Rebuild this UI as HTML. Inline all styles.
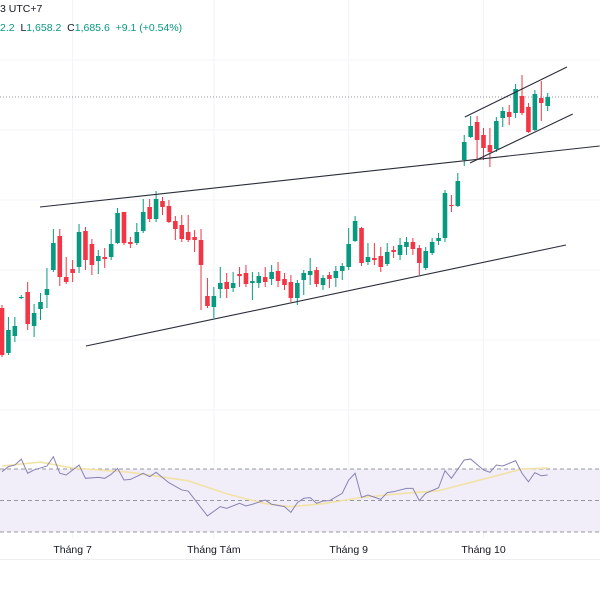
<!DOCTYPE html>
<html><head><meta charset="utf-8">
<style>
html,body{margin:0;padding:0;background:#fff;}
#wrap{position:relative;width:600px;height:600px;overflow:hidden;font-family:"Liberation Sans",sans-serif;}
.t{position:absolute;font-size:10.5px;white-space:nowrap;}
</style></head>
<body>
<div id="wrap">
<svg id="svg" width="600" height="600" xmlns="http://www.w3.org/2000/svg"></svg>
<div class="t" style="left:0;top:3px;color:#131722">3 UTC+7</div>
<div class="t" style="left:0;top:22px;color:#089981">2.2 &nbsp;<span style="color:#131722">L</span>1,658.2 &nbsp;<span style="color:#131722">C</span>1,685.6 &nbsp;+9.1 (+0.54%)</div>
</div>
<script>
const opens=[1474,1429,1446,1485,1490,1456,1473,1487,1512,1546,1505,1513,1515,1551,1538,1521,1525,1525,1539,1570,1540,1539,1551,1575,1563,1581,1576,1561,1557,1550,1545,1542,1486,1475,1493,1500,1494,1508,1509,1499,1499,1505,1503,1511,1503,1500,1484,1502,1507,1512,1497,1507,1504,1511,1515,1541,1554,1520,1524,1526,1518,1532,1527,1535,1540,1534,1514,1529,1541,1544,1577,1576,1622,1645,1660,1647,1637,1633,1664,1670,1669,1686,1675,1652,1684,1676];
const highs=[1477,1465,1465,1487,1500,1478,1489,1514,1553,1553,1525,1522,1558,1555,1543,1532,1534,1553,1574,1570,1545,1559,1583,1583,1591,1585,1582,1566,1567,1567,1552,1553,1504,1495,1515,1509,1510,1515,1517,1510,1510,1515,1517,1520,1509,1507,1502,1512,1524,1515,1507,1510,1516,1519,1554,1566,1555,1539,1539,1535,1539,1536,1544,1545,1544,1537,1535,1544,1549,1592,1587,1609,1647,1666,1666,1654,1654,1665,1675,1677,1698,1707,1679,1692,1701,1689];
const lows=[1425,1427,1440,1483,1452,1445,1462,1474,1510,1496,1498,1500,1509,1512,1507,1508,1514,1522,1538,1537,1534,1537,1549,1560,1560,1567,1559,1542,1540,1540,1530,1472,1474,1464,1484,1484,1490,1495,1495,1482,1494,1495,1497,1495,1492,1480,1477,1487,1497,1495,1492,1494,1495,1502,1512,1540,1516,1517,1517,1510,1516,1524,1522,1527,1527,1507,1512,1527,1537,1540,1570,1575,1616,1644,1622,1622,1615,1630,1655,1657,1664,1667,1649,1651,1661,1671];
const closes=[1427,1452,1456,1485,1458,1469,1480,1493,1539,1505,1500,1509,1550,1522,1517,1526,1523,1538,1569,1539,1538,1550,1570,1563,1583,1575,1560,1553,1543,1542,1542,1517,1476,1486,1499,1493,1499,1506,1498,1501,1506,1500,1510,1501,1497,1484,1499,1509,1511,1498,1504,1503,1511,1516,1538,1561,1519,1525,1522,1515,1530,1530,1537,1540,1533,1519,1531,1540,1544,1589,1576,1601,1640,1656,1642,1634,1630,1661,1671,1665,1693,1669,1650,1688,1679,1685];
const rsiIdx=[0,1,2,3,4,5,7,8,9,10,12,13,15,16,17,18,19,20,22,23,24,26,28,29,32,34,35,37,38,39,41,42,44,45,46,47,48,49,50,51,53,54,55,56,57,59,60,61,63,64,65,66,68,69,70,72,73,75,76,77,78,80,81,82,83,84,85];
const rsiVals=[68.3,71.5,72.5,76.3,67.3,69.4,71.9,77.8,67.3,66.2,72.5,64.1,64.7,64.1,66.6,70.4,63.0,63.4,67.3,65.1,67.9,61.3,56.7,56.0,40.2,46.1,45.0,48.2,46.5,47.6,50.3,47.6,46.1,42.5,48.6,51.4,51.8,48.2,49.7,49.9,54.6,63.0,67.3,52.0,53.5,50.7,55.0,55.6,57.7,57.7,49.9,54.6,58.1,68.9,64.1,75.7,76.3,69.4,67.9,72.5,71.9,75.3,67.3,61.9,67.7,65.7,66.2];
const maIdx=[0,6,11,20,29,35,41,45,50,56,62,68,74,78,81,85];
const maVals=[71.9,74.4,70.6,67.9,62.5,54.3,48.0,46.1,48.0,51.9,54.3,56.2,62.5,66.8,70.0,70.6];
const rsiLevels=[70,50,30];
const monthLabels=["Tháng 7","Tháng Tám","Tháng 9","Tháng 10"];
const monthIdx=[11,33,54,75];
const lastPrice=1685;
const trendLines=[
 {name:"upper-trendline",i:[5.92,93.1],p:[1575,1636]},
 {name:"lower-trendline",i:[13.08,87.85],p:[1436,1537]},
 {name:"channel-top-line",i:[72.1,88.0],p:[1665,1715]},
 {name:"channel-bottom-line",i:[72.9,88.9],p:[1619,1668]}
];
const NS="http://www.w3.org/2000/svg";
const svg=document.getElementById('svg');
const xS=i=>2+i*6.42;
const yP=p=>97-(p-lastPrice)*1.0;
const yR=v=>469+(70-v)*1.575;
function mk(tag,attrs,parent){const e=document.createElementNS(NS,tag);for(const k in attrs)e.setAttribute(k,attrs[k]);(parent||svg).appendChild(e);return e;}
// grid
monthIdx.forEach((m,k)=>{
 const g=mk('line',{x1:xS(m),x2:xS(m),y1:0,y2:538,stroke:'#f0f3fa','stroke-width':1});
 
 
});
[60,130,200,270,340,410].forEach(y=>{const g=mk('line',{x1:0,x2:600,y1:y,y2:y,stroke:'#f5f6fa','stroke-width':1});
 
 });
// RSI band
const band=mk('rect',{x:0,y:yR(70),width:600,height:yR(30)-yR(70),fill:'#f1eefa'});


rsiLevels.forEach(v=>{const l=mk('line',{x1:0,x2:600,y1:yR(v),y2:yR(v),stroke:'#9598a1','stroke-width':1,'stroke-dasharray':'4,3'});
 
 });
// last price
const lp=mk('line',{x1:0,x2:600,y1:yP(lastPrice),y2:yP(lastPrice),stroke:'#9598a1','stroke-width':1,'stroke-dasharray':'1,2'});


// candles
for(let i=0;i<opens.length;i++){
 const up=closes[i]>=opens[i];const c=up?'#089981':'#f23645';
 const g=mk('g',{});
 
 
 const x=xS(i);
 mk('line',{x1:x,x2:x,y1:yP(highs[i]),y2:yP(lows[i]),stroke:c,'stroke-width':1},g);
 const top=yP(Math.max(opens[i],closes[i])),bot=yP(Math.min(opens[i],closes[i]));
 mk('rect',{x:x-2.3,y:top,width:4.6,height:Math.max(1,bot-top),fill:c},g);
}
// trendlines
trendLines.forEach(t=>{const l=mk('line',{x1:xS(t.i[0]),y1:yP(t.p[0]),x2:xS(t.i[1]),y2:yP(t.p[1]),stroke:'#2a2e39','stroke-width':1.1});
 
 });
// RSI MA
const ma=mk('polyline',{points:maIdx.map((m,k)=>xS(m)+','+yR(maVals[k])).join(' '),fill:'none',stroke:'#f3e2a6','stroke-width':1.6});


const rl=mk('polyline',{points:rsiIdx.map((m,k)=>xS(m)+','+yR(rsiVals[k])).join(' '),fill:'none',stroke:'#8883b3','stroke-width':1});


// time axis
const ax=mk('line',{x1:0,x2:600,y1:559.5,y2:559.5,stroke:'#eceef2','stroke-width':1});


monthIdx.forEach((m,k)=>{const t=mk('text',{x:xS(m),y:553,'text-anchor':'middle','font-size':'10.5','fill':'#131722','font-family':'Liberation Sans, sans-serif'});
 t.textContent=monthLabels[k];
 
 });
</script>
</body></html>
